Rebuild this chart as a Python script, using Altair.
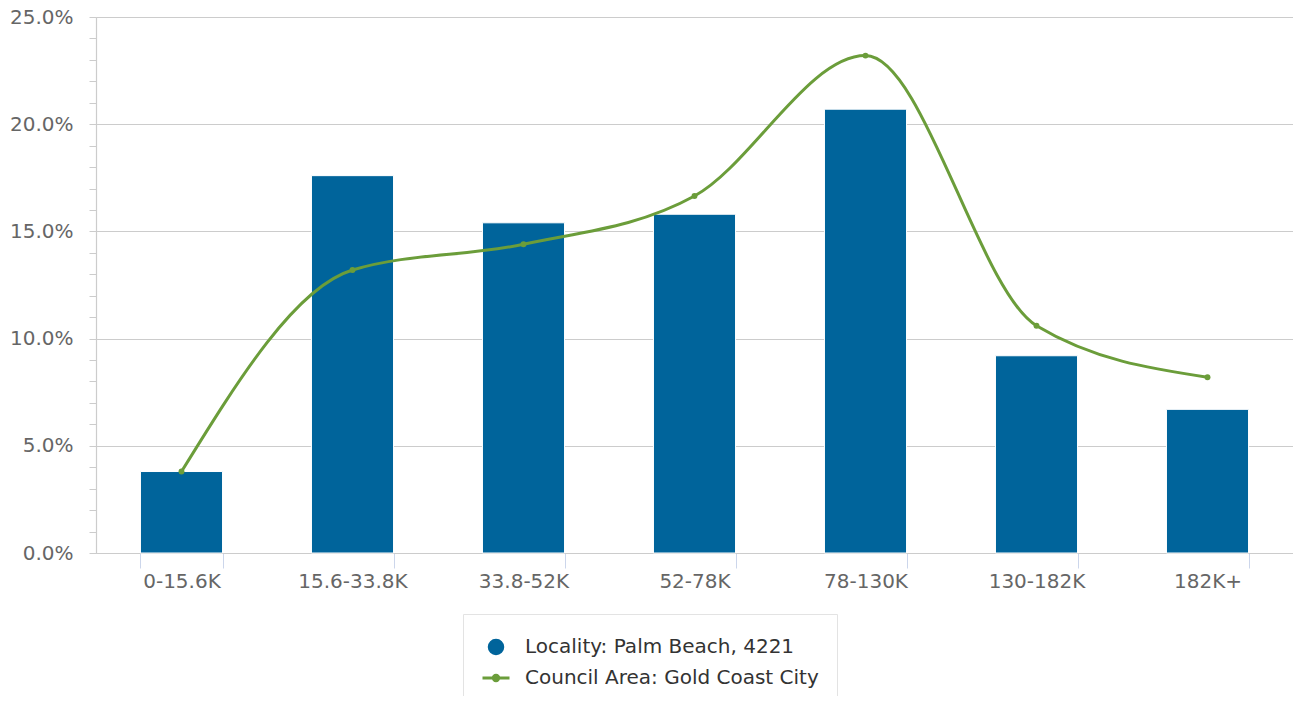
import altair as alt
import pandas as pd

categories = ["0-15.6K", "15.6-33.8K", "33.8-52K", "52-78K", "78-130K", "130-182K", "182K+"]
locality = [3.8, 17.6, 15.4, 15.8, 20.7, 9.2, 6.7]
council = [3.8, 13.2, 14.4, 16.65, 23.2, 10.6, 8.2]
series_names = ["Locality: Palm Beach, 4221", "Council Area: Gold Coast City"]
colors = ["#00649b", "#6b9d3a"]
y_ticks = list(range(0, 26))

bar_df = pd.DataFrame({"cat": categories, "value": locality, "series": series_names[0]})
line_df = pd.DataFrame({"cat": categories, "value": council, "series": series_names[1]})

# legend symbols: a dot for the bars, a short line with a dot for the line
circle_path = "M-0.5,0A0.5,0.5,0,1,1,0.5,0A0.5,0.5,0,1,1,-0.5,0Z"
line_path = "M-1,0L1,0M-0.2,0A0.2,0.2,0,1,1,0.2,0A0.2,0.2,0,1,1,-0.2,0Z"

legend = alt.Legend(
    title=None,
    orient="none",
    legendX=367,
    legendY=597,
    padding=18,
    strokeColor="#e3e3e3",
    fillColor="white",
    labelFontSize=20,
    labelColor="#333333",
    labelFont="DejaVu Sans",
    labelOffset=14,
    labelLimit=500,
    symbolSize=729,
    symbolStrokeWidth=3,
    symbolOpacity=1,
    rowPadding=3,
)

color_scale = alt.Scale(domain=series_names, range=colors)

x = alt.X(
    "cat:N",
    sort=categories,
    scale=alt.Scale(paddingInner=0.52, paddingOuter=0.26),
    axis=alt.Axis(
        title=None, labelAngle=0, labelFontSize=20, labelColor="#666666",
        labelFont="DejaVu Sans", labelPadding=3, tickBand="extent", tickSize=15,
        tickColor="#ccd6eb", domainColor="#cccccc", domainWidth=1.2, grid=False,
    ),
)

y = alt.Y(
    "value:Q",
    scale=alt.Scale(domain=[0, 25], nice=False, zero=True),
    axis=alt.Axis(
        title=None, values=y_ticks,
        labelExpr="datum.value % 5 === 0 ? format(datum.value, '.1f') + '%' : ''",
        labelFontSize=20, labelColor="#666666", labelFont="DejaVu Sans",
        labelPadding=16, labelFlush=False, labelOverlap=False,
        tickSize=7, tickColor="#cccccc", domainColor="#cccccc", domainWidth=1.2,
        grid=True, gridColor="#cccccc", gridWidth=1.2,
        gridOpacity={"condition": {"test": "datum.value % 5 === 0", "value": 1}, "value": 0},
    ),
)

bars = alt.Chart(bar_df).mark_bar(color=colors[0], stroke="white", strokeWidth=1).encode(x=x, y=y)
line = alt.Chart(line_df).mark_line(color=colors[1], interpolate="monotone", strokeWidth=3).encode(x=x, y=y)
points = alt.Chart(line_df).mark_point(color=colors[1], filled=True, size=35, opacity=1).encode(x=x, y=y)

# legend-only layer: no rows survive the filter, the legend comes from the explicit scale domains
legend_layer = (
    alt.Chart(line_df)
    .transform_filter("false")
    .mark_point(filled=True, opacity=1, strokeWidth=3)
    .encode(
        x=x,
        y=y,
        fill=alt.Fill("series:N", scale=color_scale, legend=legend),
        stroke=alt.Stroke("series:N", scale=color_scale, legend=legend),
        shape=alt.Shape(
            "series:N",
            scale=alt.Scale(domain=series_names, range=[circle_path, line_path]),
            legend=legend,
        ),
    )
)

chart = (
    alt.layer(bars, line, points, legend_layer)
    .properties(
        width=1197,
        height=536,
        autosize=alt.AutoSizeParams(type="none"),
        padding={"left": 88, "top": 9, "right": 0, "bottom": 143},
    )
    .configure_view(stroke=None)
    .configure(font="DejaVu Sans")
)

chart.save("out.html", embed_options={"renderer": "svg", "actions": False})
